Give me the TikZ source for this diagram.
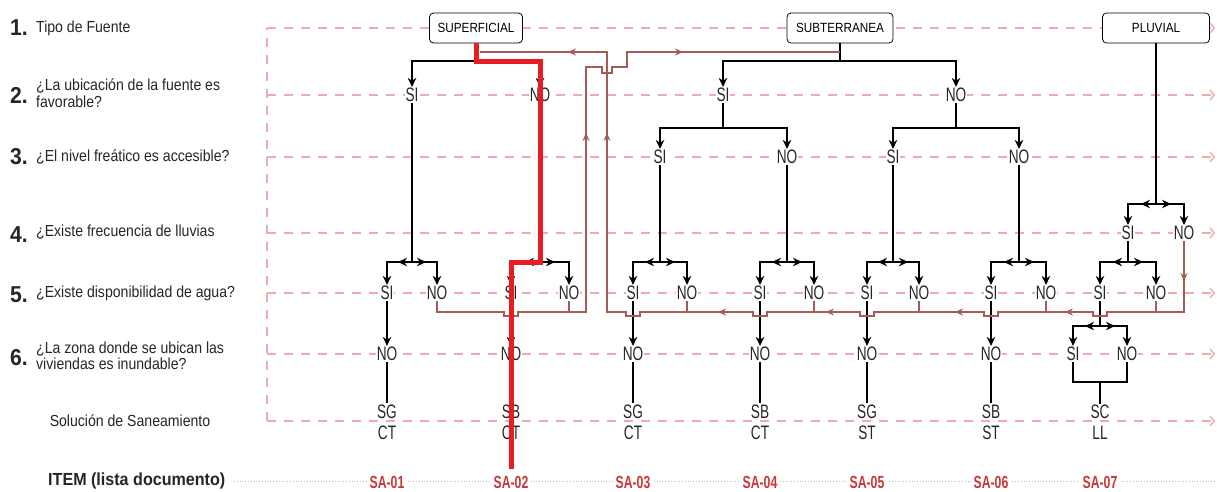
\documentclass[tikz,border=0pt]{standalone}
\usepackage{fontspec}
\setmainfont{Liberation Sans}
\newfontfamily\qfont{Liberation Sans}[FakeStretch=0.88]
\newfontfamily\ansfont{Liberation Sans}[FakeStretch=0.7]
\newfontfamily\numfont{Liberation Sans}[FakeStretch=0.92]
\usetikzlibrary{positioning, arrows.meta, decorations.markings}

\definecolor{guidepink}{RGB}{238,172,172}
\definecolor{retbrown}{RGB}{165,92,82}
\definecolor{pathred}{RGB}{232,28,34}
\definecolor{itemred}{RGB}{205,55,55}

\begin{document}
\begin{tikzpicture}[
      x=1pt, y=-1pt,
      box/.style   = {rectangle, draw, rounded corners=4pt, fill=white,
                      line width=0.8pt, minimum width=93pt, minimum height=30pt,
                      inner xsep=7pt, font=\qfont\fontsize{13.3}{15}\selectfont},
      num/.style   = {anchor=west, inner sep=0pt, text=black!85,
                      font=\numfont\bfseries\fontsize{23}{23}\selectfont},
      quest/.style = {anchor=west, inner sep=0pt, align=left, text=black!85,
                      font=\qfont\fontsize{16}{16.5}\selectfont},
      ans/.style   = {inner sep=1pt, fill=white, text=black!85,
                      font=\ansfont\fontsize{19.5}{19.5}\selectfont},
      sol/.style   = {inner sep=1pt, align=center, text=black!85,
                      font=\ansfont\fontsize{19.5}{21}\selectfont},
      item/.style  = {inner xsep=3pt, inner ysep=1pt, fill=white, text=itemred,
                      font=\ansfont\bfseries\fontsize{17.5}{17.5}\selectfont},
      guide/.style = {guidepink, line width=1.4pt, dash pattern=on 9pt off 8pt},
      blk/.style   = {line width=2.3pt},
      arr/.style   = {line width=2.3pt, -{Stealth[length=9pt, width=8.5pt]}},
      ret/.style   = {retbrown, line width=1.8pt},
      hot/.style   = {pathred, line width=5pt},
    ]
    \fill[white] (0,0) rectangle (1220,491);
    \useasboundingbox (0,0) rectangle (1220,491);

    % Guide lines
    \draw[guide, -{Straight Barb[length=4pt, width=10pt]}] (267,28) -- (1215,28);
    \draw[guide, -{Straight Barb[length=4pt, width=10pt]}] (267,95) -- (1215,95);
    \draw[guide, -{Straight Barb[length=4pt, width=10pt]}] (267,157) -- (1215,157);
    \draw[guide, -{Straight Barb[length=4pt, width=10pt]}] (267,233) -- (1215,233);
    \draw[guide, -{Straight Barb[length=4pt, width=10pt]}] (267,293) -- (1215,293);
    \draw[guide, -{Straight Barb[length=4pt, width=10pt]}] (267,354) -- (1215,354);
    \draw[guide, -{Straight Barb[length=4pt, width=10pt]}] (267,421) -- (1215,421);
    \draw[guide] (267,421) -- (267,28);
    \draw[gray!55, dotted, line width=0.8pt] (234,481) -- (1215,481);

    % Row labels
    \node[num]   (n1) at (10,28)  {1.};
    \node[quest] (q1) at (36,28)  {Tipo de Fuente};
    \node[num]   (n2) at (10,95)  {2.};
    \node[quest] (q2) at (36,93)  {¿La ubicación de la fuente es\\favorable?};
    \node[num]   (n3) at (10,157) {3.};
    \node[quest] (q3) at (36,157) {¿El nivel freático es accesible?};
    \node[num]   (n4) at (10,235) {4.};
    \node[quest] (q4) at (36,232) {¿Existe frecuencia de lluvias};
    \node[num]   (n5) at (10,295) {5.};
    \node[quest] (q5) at (36,293) {¿Existe disponibilidad de agua?};
    \node[num]   (n6) at (10,358) {6.};
    \node[quest] (q6) at (36,356) {¿La zona donde se ubican las\\viviendas es inundable?};
    \node[quest, anchor=center] (qsol) at (130,421) {Solución de Saneamiento};
    \node[quest, font=\numfont\bfseries\fontsize{17.5}{18}\selectfont] (qitem) at (48,481)
          {ITEM (lista documento)};

    % Source boxes
    \node[box] (superficial) at (476,28) {SUPERFICIAL};
    \node[box, minimum width=106pt] (subterranea) at (840,28) {SUBTERRANEA};
    \node[box, minimum width=107pt] (pluvial) at (1156,28) {PLUVIAL};

    % Answers, rows 2 to 4
    \node[ans] (supSi)   at (412,95)   {SI};
    \node[ans] (supNo)   at (540,95)   {NO};
    \node[ans] (subSi)   at (723,95)   {SI};
    \node[ans] (subNo)   at (956,95)   {NO};
    \node[ans] (subSiSi) at (660,157)  {SI};
    \node[ans] (subSiNo) at (787,157)  {NO};
    \node[ans] (subNoSi) at (893,157)  {SI};
    \node[ans] (subNoNo) at (1019,157) {NO};
    \node[ans] (pluSi)   at (1128,233) {SI};
    \node[ans] (pluNo)   at (1184,233) {NO};

    % Answers, row 5
    \node[ans] (aSi) at (387,293)  {SI};
    \node[ans] (aNo) at (437,293)  {NO};
    \node[ans] (bSi) at (511,293)  {SI};
    \node[ans] (bNo) at (569,293)  {NO};
    \node[ans] (cSi) at (633,293)  {SI};
    \node[ans] (cNo) at (687,293)  {NO};
    \node[ans] (dSi) at (760,293)  {SI};
    \node[ans] (dNo) at (814,293)  {NO};
    \node[ans] (eSi) at (867,293)  {SI};
    \node[ans] (eNo) at (919,293)  {NO};
    \node[ans] (fSi) at (991,293)  {SI};
    \node[ans] (fNo) at (1046,293) {NO};
    \node[ans] (gSi) at (1100,293) {SI};
    \node[ans] (gNo) at (1156,293) {NO};

    % Answers, row 6
    \node[ans] (aInu)   at (387,354)  {NO};
    \node[ans] (bInu)   at (511,354)  {NO};
    \node[ans] (cInu)   at (633,354)  {NO};
    \node[ans] (dInu)   at (760,354)  {NO};
    \node[ans] (eInu)   at (867,354)  {NO};
    \node[ans] (fInu)   at (991,354)  {NO};
    \node[ans] (gInuSi) at (1073,354) {SI};
    \node[ans] (gInuNo) at (1127,354) {NO};

    % Solutions and items
    \node[sol] (solA) at (387,422)  {SG\\CT};
    \node[sol] (solB) at (511,422)  {SB\\CT};
    \node[sol] (solC) at (633,422)  {SG\\CT};
    \node[sol] (solD) at (760,422)  {SB\\CT};
    \node[sol] (solE) at (867,422)  {SG\\ST};
    \node[sol] (solF) at (991,422)  {SB\\ST};
    \node[sol] (solG) at (1100,422) {SC\\LL};
    \node[item] (itemA) at (387,482)  {SA-01};
    \node[item] (itemB) at (511,482)  {SA-02};
    \node[item] (itemC) at (633,482)  {SA-03};
    \node[item] (itemD) at (760,482)  {SA-04};
    \node[item] (itemE) at (867,482)  {SA-05};
    \node[item] (itemF) at (991,482)  {SA-06};
    \node[item] (itemG) at (1100,482) {SA-07};

    % Fork points
    \coordinate (supFork)   at (476,61);
    \coordinate (subFork)   at (840,61);
    \coordinate (subSiFork) at (723,128);
    \coordinate (subNoFork) at (956,128);
    \coordinate (pluFork)   at (1156,204);
    \coordinate (aFork) at (412,262);
    \coordinate (bFork) at (540,262);
    \coordinate (cFork) at (660,262);
    \coordinate (dFork) at (787,262);
    \coordinate (eFork) at (893,262);
    \coordinate (fFork) at (1019,262);
    \coordinate (gFork) at (1128,262);
    \coordinate (gInuFork) at (1100,326);
    \coordinate (gJoin)    at (1100,382);

    % Decision tree
    \draw[blk] (superficial) -- (supFork);
    \draw[arr] (supFork) -| (supSi);
    \draw[arr] (supFork) -| (supNo);
    \draw[blk] (subterranea) -- (subFork);
    \draw[arr] (subFork) -| (subSi);
    \draw[arr] (subFork) -| (subNo);
    \draw[blk] (subSi) -- (subSiFork);
    \draw[arr] (subSiFork) -| (subSiSi);
    \draw[arr] (subSiFork) -| (subSiNo);
    \draw[blk] (subNo) -- (subNoFork);
    \draw[arr] (subNoFork) -| (subNoSi);
    \draw[arr] (subNoFork) -| (subNoNo);
    \draw[blk] (pluvial) -- (pluFork);
    \draw[arr] (pluFork) -| (pluSi);
    \draw[arr] (pluFork) -| (pluNo);
    \draw[arr] (pluFork) -- ++(-15,0);
    \draw[arr] (pluFork) -- ++(15,0);

    % Forks to row 5
    \draw[blk] (supSi) -- (aFork);
    \draw[arr] (aFork) -| (aSi);  \draw[arr] (aFork) -| (aNo);
    \draw[arr] (aFork) -- ++(-14,0); \draw[arr] (aFork) -- ++(14,0);
    \draw[blk] (supNo) -- (bFork);
    \draw[arr] (bFork) -| (bSi);  \draw[arr] (bFork) -| (bNo);
    \draw[arr] (bFork) -- ++(-15,0); \draw[arr] (bFork) -- ++(15,0);
    \draw[blk] (subSiSi) -- (cFork);
    \draw[arr] (cFork) -| (cSi);  \draw[arr] (cFork) -| (cNo);
    \draw[arr] (cFork) -- ++(-15,0); \draw[arr] (cFork) -- ++(15,0);
    \draw[blk] (subSiNo) -- (dFork);
    \draw[arr] (dFork) -| (dSi);  \draw[arr] (dFork) -| (dNo);
    \draw[arr] (dFork) -- ++(-15,0); \draw[arr] (dFork) -- ++(15,0);
    \draw[blk] (subNoSi) -- (eFork);
    \draw[arr] (eFork) -| (eSi);  \draw[arr] (eFork) -| (eNo);
    \draw[arr] (eFork) -- ++(-15,0); \draw[arr] (eFork) -- ++(15,0);
    \draw[blk] (subNoNo) -- (fFork);
    \draw[arr] (fFork) -| (fSi);  \draw[arr] (fFork) -| (fNo);
    \draw[arr] (fFork) -- ++(-15,0); \draw[arr] (fFork) -- ++(15,0);
    \draw[blk] (pluSi) -- (gFork);
    \draw[arr] (gFork) -| (gSi);  \draw[arr] (gFork) -| (gNo);
    \draw[arr] (gFork) -- ++(-15,0); \draw[arr] (gFork) -- ++(15,0);

    % Row 5 to row 6 and solutions
    \draw[arr] (aSi) -- (aInu);  \draw[blk] (aInu) -- (solA);
    \draw[arr] (bSi) -- (bInu);  \draw[blk] (bInu) -- (solB);
    \draw[arr] (cSi) -- (cInu);  \draw[blk] (cInu) -- (solC);
    \draw[arr] (dSi) -- (dInu);  \draw[blk] (dInu) -- (solD);
    \draw[arr] (eSi) -- (eInu);  \draw[blk] (eInu) -- (solE);
    \draw[arr] (fSi) -- (fInu);  \draw[blk] (fInu) -- (solF);
    \draw[blk] (gSi) -- (gInuFork);
    \draw[arr] (gInuFork) -| (gInuSi); \draw[arr] (gInuFork) -| (gInuNo);
    \draw[arr] (gInuFork) -- ++(-15,0); \draw[arr] (gInuFork) -- ++(15,0);
    \draw[blk] (gInuSi) |- (gJoin);
    \draw[blk] (gInuNo) |- (gJoin);
    \draw[blk] (gJoin) -- (solG);

    % Return lines
    \coordinate (lowL) at (586,312);
    \coordinate (lowR) at (1184,312);
    \coordinate (retA) at (480,52);
    \coordinate (retB) at (840,52);
    \draw[ret, postaction={decorate}, decoration={markings,
            mark=at position 40pt with {\arrow{Stealth[length=8pt, width=7pt]}},
            mark=at position 198pt with {\arrow{Stealth[length=8pt, width=7pt]}},
            mark=at position 316pt with {\arrow{Stealth[length=8pt, width=7pt]}},
            mark=at position 453pt with {\arrow{Stealth[length=8pt, width=7pt]}},
            mark=at position 569pt with {\arrow{Stealth[length=8pt, width=7pt]}},
            mark=at position 867pt with {\arrow{Stealth[length=8pt, width=7pt]}},
            mark=at position 987pt with {\arrow{Stealth[length=8pt, width=7pt]}}}]
          (pluNo) -- (pluNo |- lowR)
          -- (1107,312) -- ++(0,4) -- ++(-14,0) -- ++(0,-4)
          -- (998,312)  -- ++(0,4) -- ++(-14,0) -- ++(0,-4)
          -- (874,312)  -- ++(0,4) -- ++(-14,0) -- ++(0,-4)
          -- (767,312)  -- ++(0,4) -- ++(-14,0) -- ++(0,-4)
          -- (640,312)  -- ++(0,4) -- ++(-14,0) -- ++(0,-4)
          -- (607,312) -- (607,52) -- (retA);
    \draw[ret, postaction={decorate}, decoration={markings,
            mark=at position 347pt with {\arrow{Stealth[length=8pt, width=7pt]}},
            mark=at position 537pt with {\arrow{Stealth[length=8pt, width=7pt]}}}]
          (aNo) -- (aNo |- lowL)
          -- (504,312) -- ++(0,4) -- ++(14,0) -- ++(0,-4)
          -- (lowL) -- (586,67) -- (602,67) -- ++(0,6) -- ++(10,0) -- ++(0,-6)
          -- (627,67) -- (627,52) -- (retB);
    \draw[ret] (bNo) -- (bNo |- lowL);
    \draw[ret] (cNo) -- (cNo |- lowR);
    \draw[ret] (dNo) -- (dNo |- lowR);
    \draw[ret] (eNo) -- (eNo |- lowR);
    \draw[ret] (fNo) -- (fNo |- lowR);
    \draw[ret] (gNo) -- (gNo |- lowR);

    % Highlighted path
    \coordinate (hotEnd) at (511,469);
    \draw[hot] (superficial) -- (supFork) -| (bFork) -| (hotEnd);
  \end{tikzpicture}
\end{document}
